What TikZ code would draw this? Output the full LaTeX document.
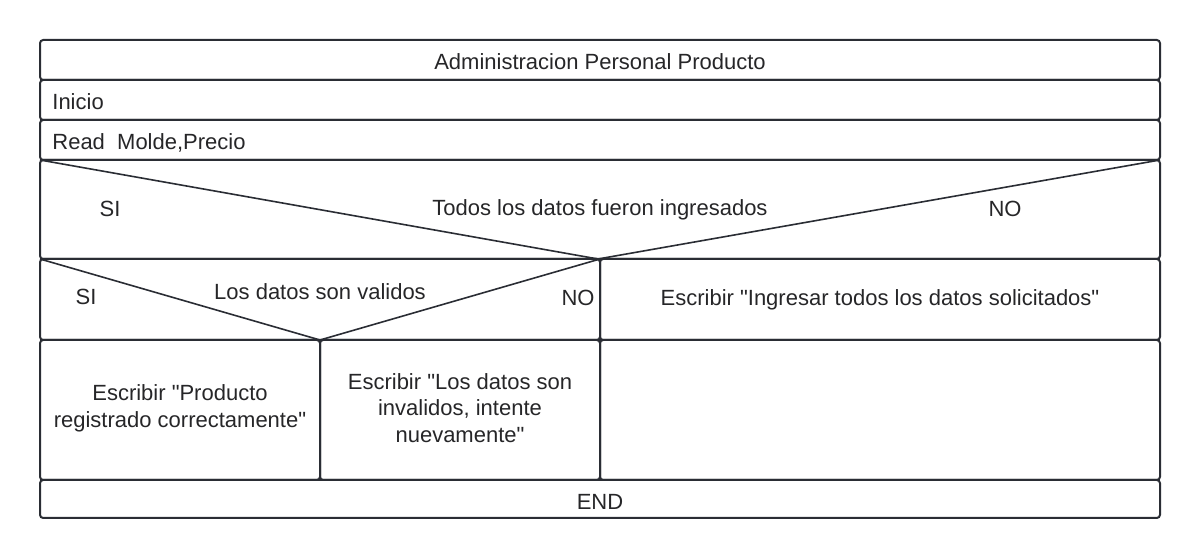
\documentclass[tikz,border=0pt]{standalone}
\usepackage{fontspec}
\setmainfont{Liberation Sans}[Ligatures=TeXOff]
\definecolor{linea}{RGB}{42,45,52}
\definecolor{texto}{RGB}{38,38,40}

\begin{document}
\begin{tikzpicture}[x=0.5pt, y=-0.5pt, every node/.style={font=\fontsize{11}{13.4}\selectfont, text=texto, inner sep=0pt},
  caja/.style={draw=linea, line width=1pt, rounded corners=1.6pt},
  diag/.style={draw=linea, line width=0.8pt}]
	\useasboundingbox (0,0) rectangle (1200,560);
	\draw[caja] (40,40) rectangle (1160,80);
	\draw[caja] (40,80) rectangle (1160,120);
	\draw[caja] (40,120) rectangle (1160,160);
	\draw[caja] (40,160) rectangle (1160,259);
	\draw[caja] (40,259) rectangle (600,340);
	\draw[caja] (600,259) rectangle (1160,340);
	\draw[caja] (40,340) rectangle (320,480);
	\draw[caja] (320,340) rectangle (600,480);
	\draw[caja] (600,340) rectangle (1160,480);
	\draw[caja] (40,480) rectangle (1160,518);
	\coordinate (c1izq) at (40,160);
	\coordinate (c1der) at (1160,160);
	\coordinate (c1fin) at (598,259);
	\coordinate (c2izq) at (40,259);
	\coordinate (c2der) at (600,259);
	\coordinate (c2fin) at (320,340);
	\draw[diag] (c1izq) -- (c1fin) -- (c1der);
	\draw[diag] (c2izq) -- (c2fin) -- (c2der);
	\node (titulo) at (600,62) {Administracion Personal Producto};
	\node[anchor=west] (inicio) at (52,102) {Inicio};
	\node[anchor=west] (leer) at (52,143) {Read\ \ Molde,Precio};
	\node (cond1) at (600,210) {Todos los datos fueron ingresados};
	\node (si1) at (110,209) {SI};
	\node (no1) at (1005,209) {NO};
	\node (cond2) at (320,292) {Los datos son validos};
	\node (si2) at (86,297) {SI};
	\node (no2) at (578,298) {NO};
	\node (faltan) at (880,300) {Escribir "Ingresar todos los datos solicitados"};
	\node[align=center] (exito) at (180,408) {Escribir "Producto\\registrado correctamente"};
	\node[align=center] (error) at (460,408) {Escribir "Los datos son\\invalidos, intente\\nuevamente"};
	\node (fin) at (600,502) {END};
\end{tikzpicture}
\end{document}
